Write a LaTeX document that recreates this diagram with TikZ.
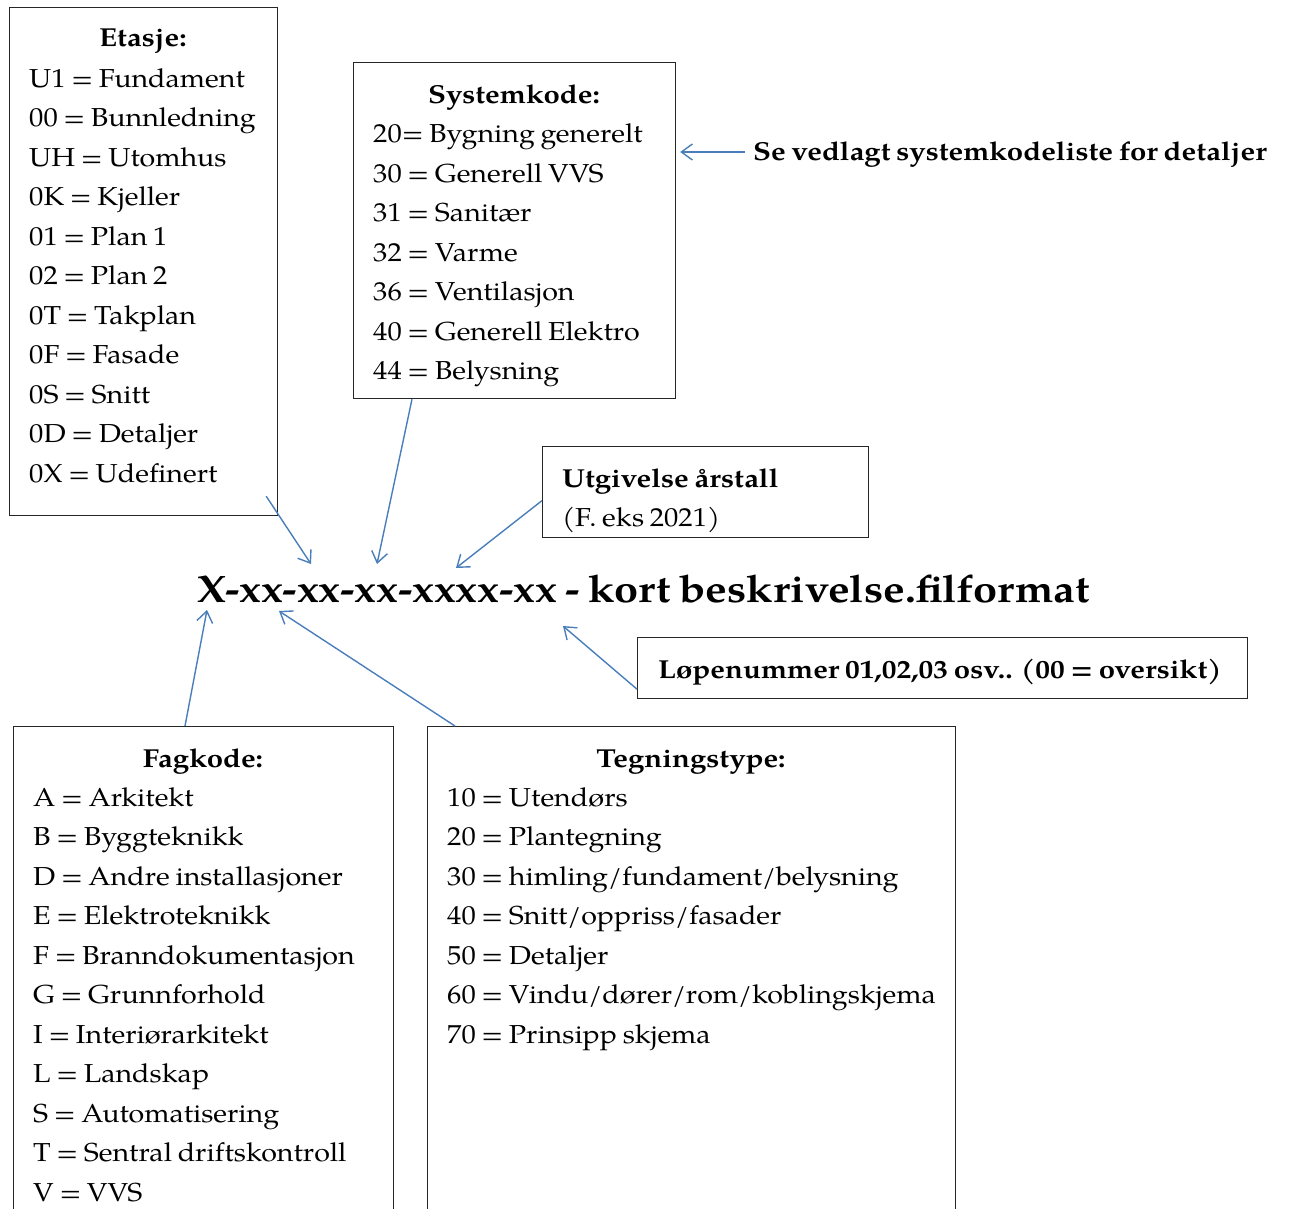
\documentclass[tikz,border=0pt]{standalone}
\usepackage{fontspec}
\setmainfont[FakeStretch=1.10, WordSpace=0.8, BoldFeatures={FakeStretch=1.13}]{TeX Gyre Pagella}
\usetikzlibrary{arrows.meta}
\definecolor{pointerblue}{RGB}{74,126,187}
\tikzset{
  panel/.style={draw=black!85, line width=1.2pt, anchor=north west, inner sep=0pt},
  entry/.style={anchor=base west, inner sep=0pt, font=\fontsize{26}{30}\selectfont},
  heading/.style={anchor=base, inner sep=0pt, font=\fontsize{26}{30}\selectfont\bfseries},
  pointer/.style={draw=pointerblue, line width=1.4pt,
    -{Straight Barb[length=11pt,width=16pt,line width=1.4pt]}}
}
\begin{document}
\begin{tikzpicture}[x=1pt,y=-1pt]
\useasboundingbox (0,0) rectangle (1290,1209);
\clip (0,0) rectangle (1290,1209);
% Etasje
\node[panel, minimum width=268pt, minimum height=508pt] (etasje) at (9,7) {};
\node[heading] (etasje-head) at (143,47) {Etasje:};
\foreach \t [count=\i from 0] in {U1 = Fundament, 00 = Bunnledning, UH = Utomhus,
    0K = Kjeller, 01 = Plan 1, 02 = Plan 2, 0T = Takplan, 0F = Fasade,
    0S = Snitt, 0D = Detaljer, 0X = Udefinert}
  \node[entry] (etasje-\i) at (29,87.3+39.5*\i) {\t};
% Systemkode
\node[panel, minimum width=322pt, minimum height=336pt] (systemkode) at (353,62) {};
\node[heading] (systemkode-head) at (514,104) {Systemkode:};
\foreach \t [count=\i from 0] in {20= Bygning generelt, 30 = Generell VVS,
    31 = Sanitær, 32 = Varme, 36 = Ventilasjon, 40 = Generell Elektro,
    44 = Belysning}
  \node[entry] (systemkode-\i) at (373,143+39.4*\i) {\t};
\node[entry, font=\fontsize{26}{30}\selectfont\bfseries] (note) at (753,161)
  {Se vedlagt systemkodeliste for detaljer};
\coordinate (note-tail) at (745,152);
% Utgivelse
\node[panel, minimum width=326pt, minimum height=91pt] (utgivelse) at (542,446) {};
\node[entry, font=\fontsize{26}{30}\selectfont\bfseries] (utgivelse-head) at (562,487)
  {Utgivelse årstall};
\node[entry] (utgivelse-ex) at (562,526) {(F. eks 2021)};
% filnavn
\node[anchor=base west, inner sep=0pt, font=\fontsize{38.3}{46}\selectfont\bfseries]
  (filename) at (197,602) {X-xx-xx-xx-xxxx-xx - kort beskrivelse.filformat};
\coordinate (tip-etasje) at (311,564);
\coordinate (tip-system) at (377,564);
\coordinate (tip-aar) at (456,568);
\coordinate (tip-fag) at (207,610);
\coordinate (tip-type) at (279,611);
\coordinate (tip-lopenr) at (563,626);
% Lopenummer
\node[panel, minimum width=610pt, minimum height=61pt] (lopenr) at (637,637) {};
\node[entry, font=\fontsize{26}{30}\selectfont\bfseries] (lopenr-text) at (658,678)
  {Løpenummer 01,02,03 osv.. (00 = oversikt)};
% Fagkode
\node[panel, minimum width=380pt, minimum height=600pt] (fagkode) at (13,726) {};
\node[heading] (fagkode-head) at (203,767) {Fagkode:};
\foreach \t [count=\i from 0] in {A = Arkitekt, B = Byggteknikk,
    D = Andre installasjoner, E = Elektroteknikk, F = Branndokumentasjon,
    G = Grunnforhold, I = Interiørarkitekt, L = Landskap, S = Automatisering,
    T = Sentral driftskontroll, V = VVS}
  \node[entry] (fagkode-\i) at (33,806+39.5*\i) {\t};
% Tegningstype
\node[panel, minimum width=528pt, minimum height=600pt] (tegning) at (427,726) {};
\node[heading] (tegning-head) at (691,767) {Tegningstype:};
\foreach \t [count=\i from 0] in {10 = Utendørs, 20 = Plantegning,
    30 = himling/fundament/belysning, 40 = Snitt/oppriss/fasader,
    50 = Detaljer, 60 = Vindu/dører/rom/koblingskjema, 70 = Prinsipp skjema}
  \node[entry] (tegning-\i) at (447,806+39.5*\i) {\t};
% piler
\draw[pointer] (note-tail) -- ([xshift=4pt]systemkode.east |- note-tail);
\draw[pointer] ([xshift=-12pt,yshift=20pt]etasje.south east) -- (tip-etasje);
\draw[pointer] ([xshift=59pt]systemkode.south west) -- (tip-system);
\draw[pointer] ([yshift=-8.5pt]utgivelse.west) -- (tip-aar);
\draw[pointer] ([xshift=172pt]fagkode.north west) -- (tip-fag);
\draw[pointer] ([xshift=28pt]tegning.north west) -- (tip-type);
\draw[pointer] ([yshift=10pt]lopenr.south west) -- (tip-lopenr);
\end{tikzpicture}
\end{document}
